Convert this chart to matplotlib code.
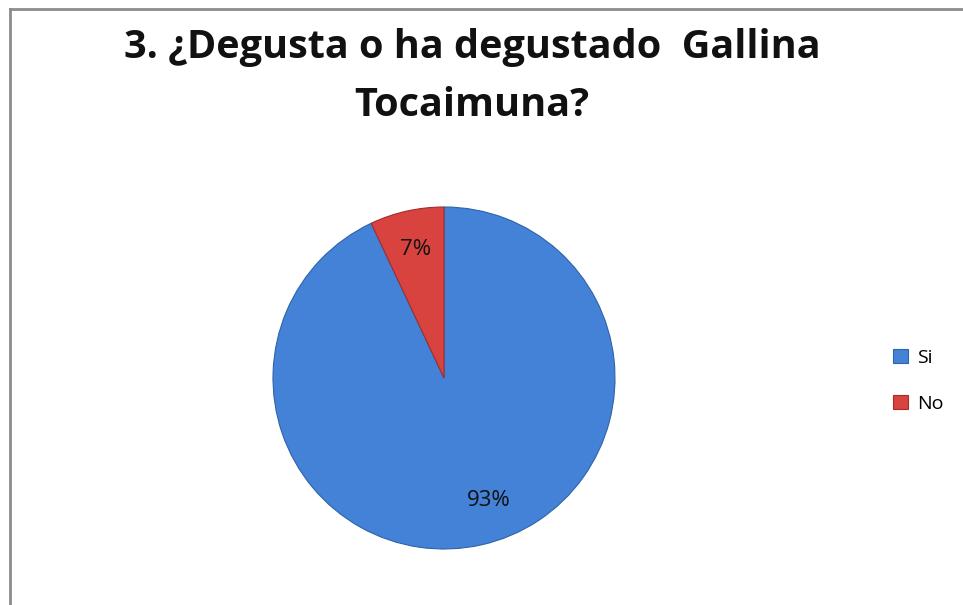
import matplotlib
matplotlib.use("Agg")
import numpy as np
import matplotlib.pyplot as plt
from matplotlib.lines import Line2D
from matplotlib.patches import Patch

categories = ["Si", "No"]
values = [93, 7]
colors = ["#4382d6", "#d8433f"]
edge_colors = ["#2f63a8", "#a02e2b"]
title_lines = ["3. ¿Degusta o ha degustado  Gallina", "Tocaimuna?"]

FONT = ["Open Sans", "DejaVu Sans"]
W, H = 963, 605
fig = plt.figure(figsize=(W / 100, H / 100), dpi=100)
fig.patch.set_facecolor("white")

# chart border (gray)
fig.add_artist(Line2D([9.5 / W, 1.0], [1 - 8.5 / H, 1 - 8.5 / H], transform=fig.transFigure,
                      color="#8c8c8c", lw=2.0))
fig.add_artist(Line2D([9.5 / W, 9.5 / W], [0, 1 - 8.5 / H], transform=fig.transFigure,
                      color="#8c8c8c", lw=2.0))

cx, cy, r = 444, 378, 171
ax = fig.add_axes([(cx - r) / W, (H - cy - r) / H, 2 * r / W, 2 * r / H])
wedges, texts, autotexts = ax.pie(
    values, colors=colors, startangle=90, counterclock=False,
    autopct=lambda p: f"{p:.0f}%", pctdistance=0.77,
    wedgeprops=dict(linewidth=0.8),
    textprops=dict(fontsize=16, family=FONT, color="#111111"),
)
for w, ec in zip(wedges, edge_colors):
    w.set_edgecolor(ec)
# Excel-style placement of the large-slice label (nudged toward the right)
ang = np.deg2rad(-70)
autotexts[0].set_position((0.76 * np.cos(ang), 0.76 * np.sin(ang)))
ax.set_xlim(-1, 1)
ax.set_ylim(-1, 1)
ax.set_aspect("equal")
ax.axis("off")

for i, (line, yb) in enumerate(zip(title_lines, [58, 116])):
    fig.text(472 / W, 1 - yb / H, line, ha="center", va="baseline", fontsize=28.5,
             fontweight="bold", family=FONT, color="#111111")

handles = [Patch(facecolor=c, edgecolor=e, linewidth=0.8) for c, e in zip(colors, edge_colors)]
leg = fig.legend(handles, categories, loc="center left",
                 bbox_to_anchor=(875 / W, 1 - 381 / H), frameon=False,
                 prop=dict(family=FONT, size=14),
                 handlelength=0.8, handleheight=0.75, handletextpad=0.45, labelspacing=1.45)

fig.savefig("out.png", dpi=100, facecolor="white")
